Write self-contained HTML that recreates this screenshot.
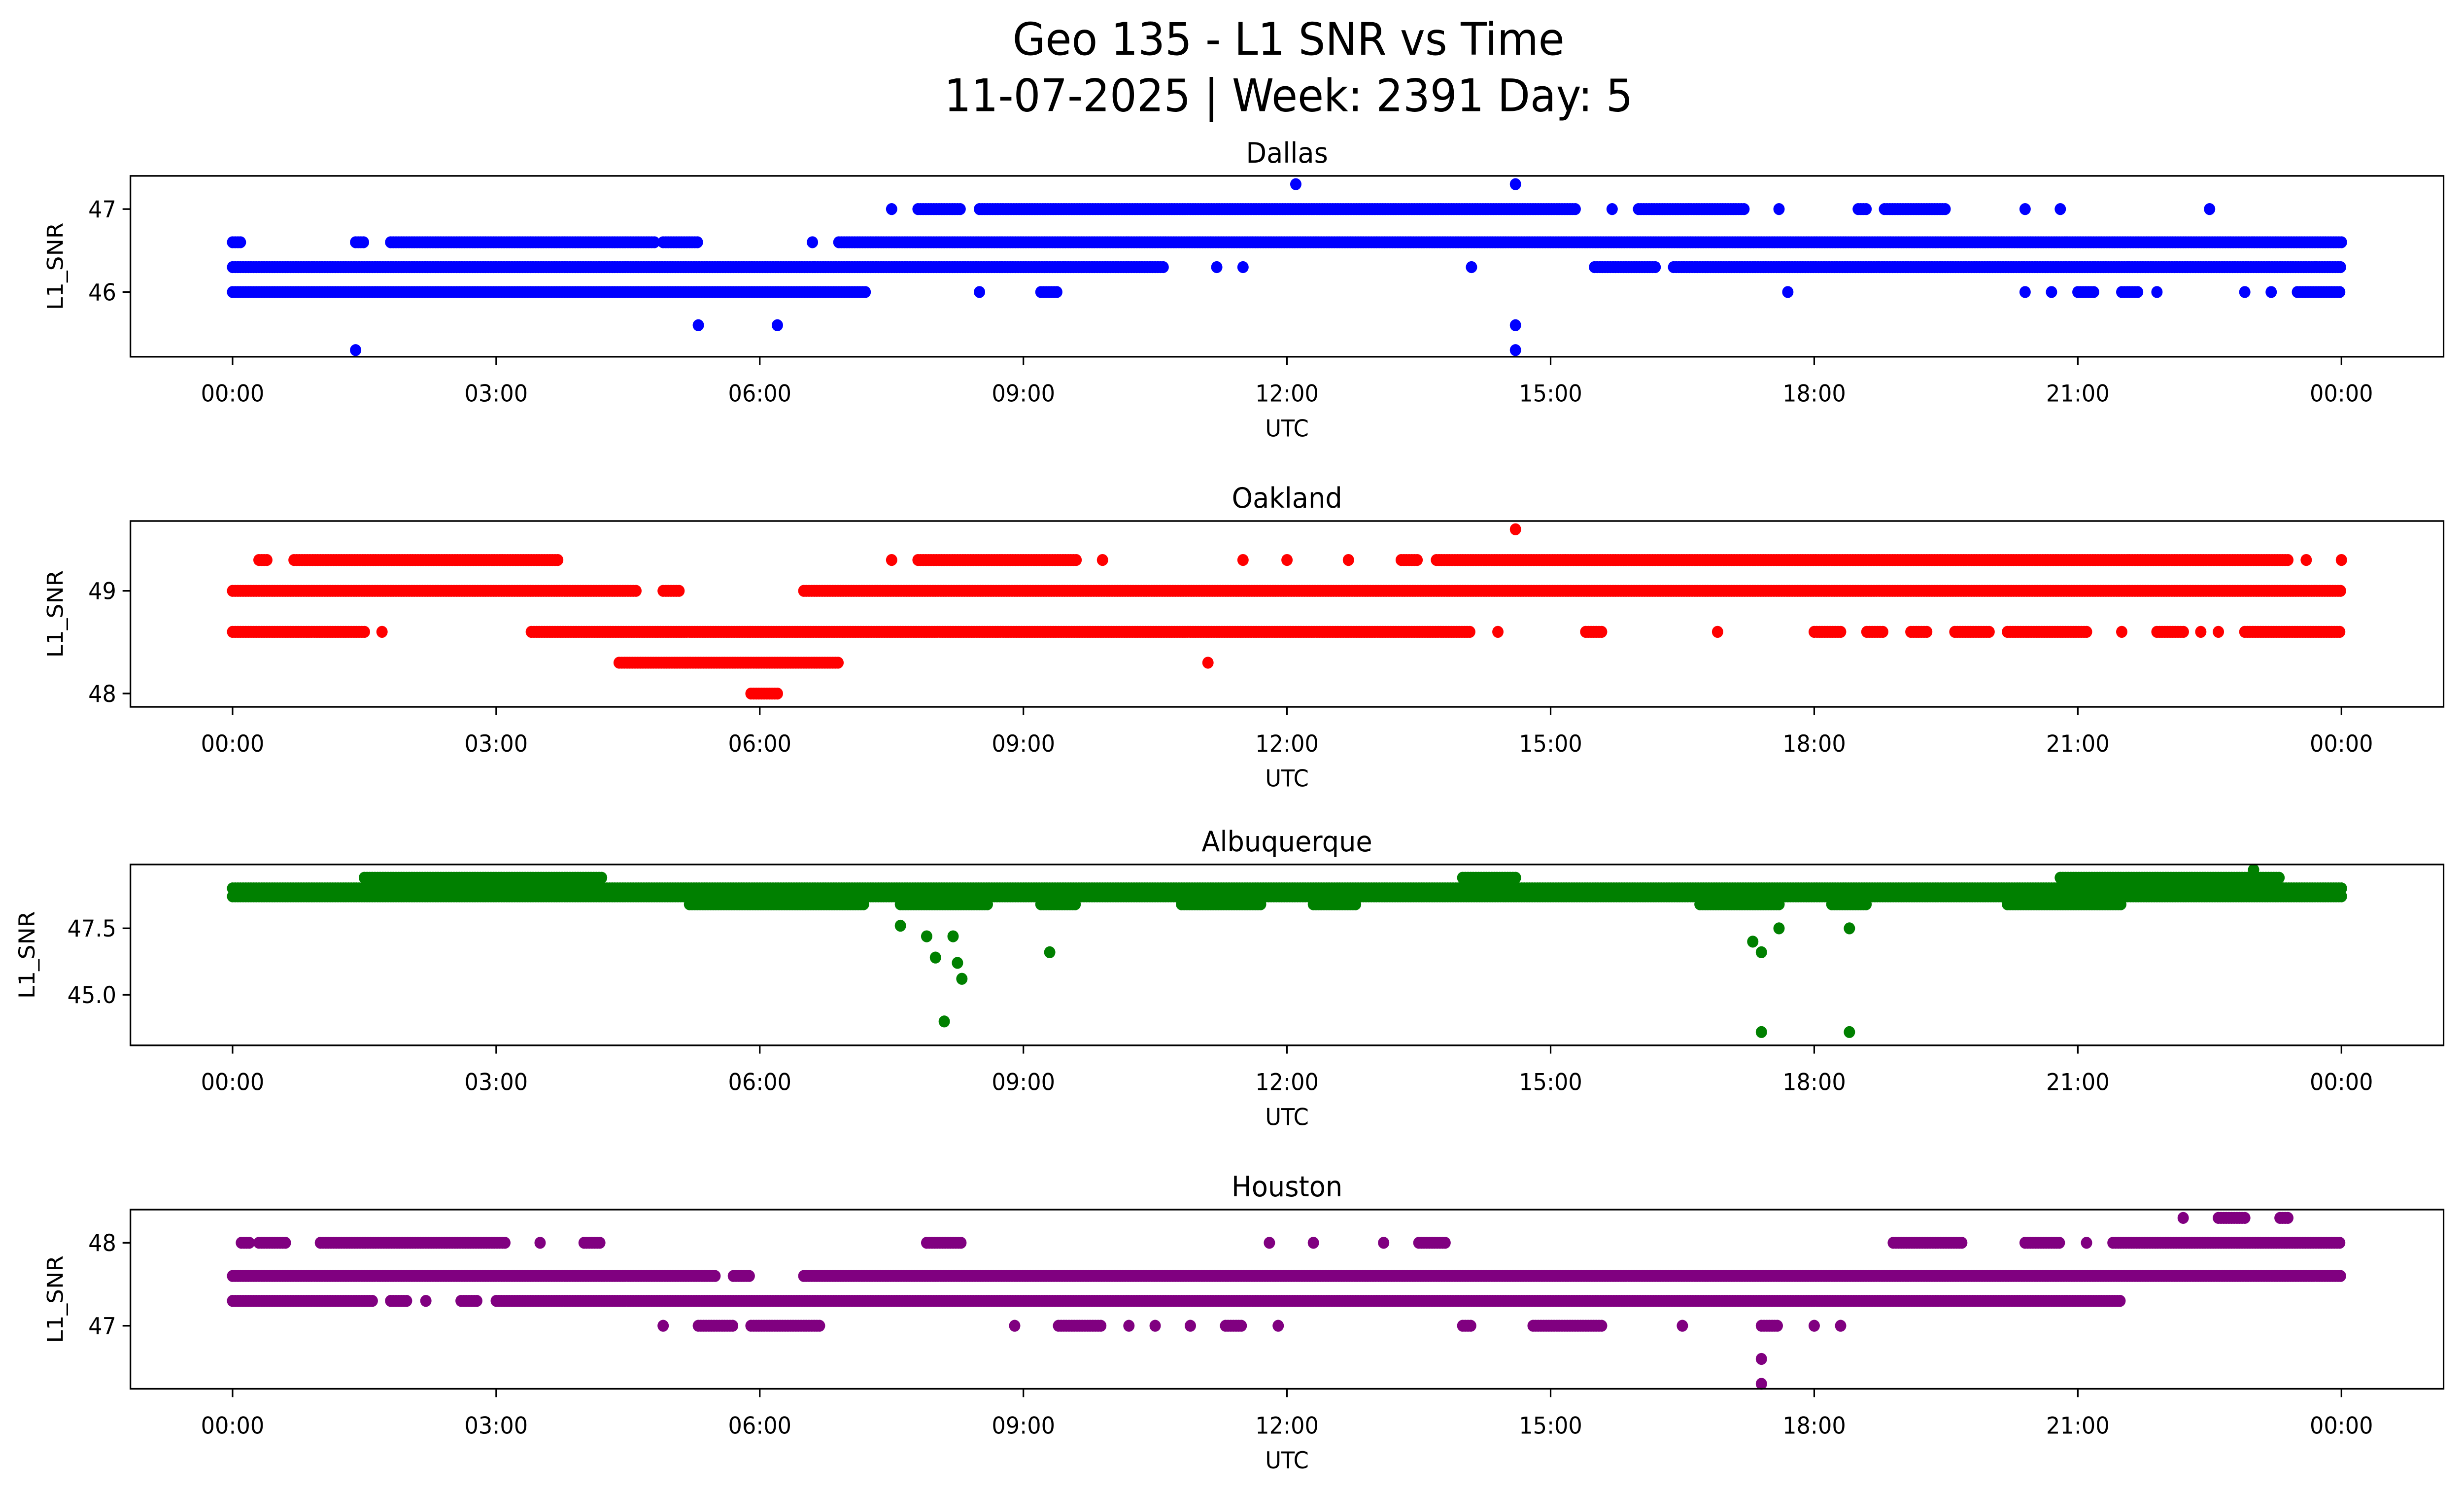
<!DOCTYPE html>
<html><head><meta charset="utf-8">
<style>html,body{margin:0;padding:0;background:#fff;width:100%;height:100%;overflow:hidden}svg{display:block;width:100vw;height:100vh}text{font-family:"DejaVu Sans","Liberation Sans",sans-serif;fill:#000}</style>
</head><body>
<svg id="fig" viewBox="0 0 1568 901" preserveAspectRatio="none" xmlns="http://www.w3.org/2000/svg">
<rect width="1568" height="901" fill="#fff"/>
<text x="820" y="33" font-size="27" text-anchor="middle">Geo 135 - L1 SNR vs Time</text>
<text x="820" y="67" font-size="27" text-anchor="middle">11-07-2025 | Week: 2391 Day: 5</text>
<g id="plots"></g>
</svg>
<script>
// x ticks (hours) and labels
const xTickHours = [0,3,6,9,12,15,18,21,24];
const xTickLabels = ["00:00","03:00","06:00","09:00","12:00","15:00","18:00","21:00","00:00"];

// runs: [startHour, endHour, snr]
const dallasRuns = [
 [0,10.6,46.3],[11.2,11.2,46.3],[11.5,11.5,46.3],[14.1,14.1,46.3],[15.5,16.2,46.3],[16.4,24,46.3],
 [0,7.2,46.0],[8.5,8.5,46.0],[9.2,9.4,46.0],[17.7,17.7,46.0],[20.4,20.4,46.0],[20.7,20.7,46.0],[21.0,21.2,46.0],[21.5,21.7,46.0],[21.9,21.9,46.0],[22.9,22.9,46.0],[23.2,23.2,46.0],[23.5,24,46.0],
 [0,0.1,46.6],[1.4,1.5,46.6],[1.8,4.8,46.6],[4.9,5.3,46.6],[6.6,6.6,46.6],[6.9,24,46.6],
 [7.5,7.5,47.0],[7.8,8.3,47.0],[8.5,15.3,47.0],[15.7,15.7,47.0],[16.0,17.2,47.0],[17.6,17.6,47.0],[18.5,18.6,47.0],[18.8,19.5,47.0],[20.4,20.4,47.0],[20.8,20.8,47.0],[22.5,22.5,47.0],
 [1.4,1.4,45.3],[14.6,14.6,45.3],[5.3,5.3,45.6],[6.2,6.2,45.6],[14.6,14.6,45.6],[12.1,12.1,47.3],[14.6,14.6,47.3]
];
const oaklandRuns = [
 [0,4.6,49.0],[4.9,5.1,49.0],[6.5,24,49.0],
 [0,1.5,48.6],[1.7,1.7,48.6],[3.4,14.1,48.6],[14.4,14.4,48.6],[15.4,15.6,48.6],[16.9,16.9,48.6],[18.0,18.3,48.6],[18.6,18.8,48.6],[19.1,19.3,48.6],[19.6,20.0,48.6],[20.2,21.1,48.6],[21.5,21.5,48.6],[21.9,22.2,48.6],[22.4,22.4,48.6],[22.6,22.6,48.6],[22.9,24,48.6],
 [0.3,0.4,49.3],[0.7,3.7,49.3],[7.5,7.5,49.3],[7.8,9.6,49.3],[9.9,9.9,49.3],[11.5,11.5,49.3],[12.0,12.0,49.3],[12.7,12.7,49.3],[13.3,13.5,49.3],[13.7,23.4,49.3],[23.6,23.6,49.3],[24,24,49.3],
 [4.4,6.9,48.3],[11.1,11.1,48.3],[5.9,6.2,48.0],[14.6,14.6,49.6]
];
const albuquerqueRuns = [
 [0,24,49.0],[0,24,48.7],
 [1.5,4.2,49.4],[14.0,14.6,49.4],[20.8,23.3,49.4],[23.0,23.0,49.7],
 [5.2,7.2,48.4],[7.6,8.6,48.4],[9.2,9.6,48.4],[10.8,11.7,48.4],[12.3,12.8,48.4],[16.7,17.6,48.4],[18.2,18.6,48.4],[20.2,21.5,48.4],
 [8.1,8.1,44.0],[8.3,8.3,45.6],[8.25,8.25,46.2],[8.0,8.0,46.4],[9.3,9.3,46.6],[17.3,17.3,47.0],[17.4,17.4,46.6],[17.4,17.4,43.6],[18.4,18.4,43.6],[18.4,18.4,47.5],[7.9,7.9,47.2],[17.6,17.6,47.5],[7.6,7.6,47.6],[8.2,8.2,47.2]
];
const houstonRuns = [
 [0,5.5,47.6],[5.7,5.9,47.6],[6.5,24,47.6],
 [0,1.6,47.3],[1.8,2.0,47.3],[2.2,2.2,47.3],[2.6,2.8,47.3],[3.0,21.5,47.3],
 [0.1,0.2,48.0],[0.3,0.6,48.0],[1.0,3.1,48.0],[3.5,3.5,48.0],[4.0,4.2,48.0],[7.9,8.3,48.0],[11.8,11.8,48.0],[12.3,12.3,48.0],[13.1,13.1,48.0],[13.5,13.8,48.0],[18.9,19.7,48.0],[20.4,20.8,48.0],[21.1,21.1,48.0],[21.4,24,48.0],
 [4.9,4.9,47.0],[5.3,5.7,47.0],[5.9,6.7,47.0],[8.9,8.9,47.0],[9.4,9.9,47.0],[10.2,10.2,47.0],[10.5,10.5,47.0],[10.9,10.9,47.0],[11.3,11.5,47.0],[11.9,11.9,47.0],[14.0,14.1,47.0],[14.8,15.6,47.0],[16.5,16.5,47.0],[17.4,17.6,47.0],[18.0,18.0,47.0],[18.3,18.3,47.0],
 [22.2,22.2,48.3],[22.6,22.9,48.3],[23.3,23.4,48.3],[17.4,17.4,46.6],[17.4,17.4,46.3]
];

const NS="http://www.w3.org/2000/svg";
const plots=document.getElementById('plots');
function mk(tag,attrs,parent){const e=document.createElementNS(NS,tag);for(const k in attrs)e.setAttribute(k,attrs[k]);(parent||plots).appendChild(e);return e;}

const panels=[
 {name:"Dallas",runs:dallasRuns,color:"#0000ff",top:106,bot:215,ymin:45.22,ymax:47.4,yt:[46,47],ytl:["46","47"]},
 {name:"Oakland",runs:oaklandRuns,color:"#ff0000",top:314,bot:426,ymin:47.87,ymax:49.68,yt:[48,49],ytl:["48","49"]},
 {name:"Albuquerque",runs:albuquerqueRuns,color:"#008000",top:521,bot:630,ymin:43.1,ymax:49.9,yt:[45,47.5],ytl:["45.0","47.5"]},
 {name:"Houston",runs:houstonRuns,color:"#800080",top:729,bot:837,ymin:46.24,ymax:48.4,yt:[47,48],ytl:["47","48"]}
];
const L=83,R=1555;
const xs=h=>148+h*(1490-148)/24;
panels.forEach((p,pi)=>{
 const key=p.name.toLowerCase();
 const g=mk('g',{});
 
 
 const ys=v=>p.bot-(v-p.ymin)/(p.ymax-p.ymin)*(p.bot-p.top);
 const t=mk('text',{x:(L+R)/2,y:p.top-8,'font-size':17,'text-anchor':'middle'},g);t.textContent=p.name;
 
 
 const pts=mk('g',{fill:p.color},g);
 
 
 p.runs.forEach(r=>{
  const step=0.03;
  for(let h=r[0];h<=r[1]+1e-9;h+=step){
   const c=mk('circle',{cx:xs(h).toFixed(1),cy:ys(r[2]).toFixed(1),r:3.6},pts);
   
   
  }
 });
 const frame=mk('rect',{x:L,y:p.top,width:R-L,height:p.bot-p.top,fill:'none',stroke:'#000','stroke-width':1},g);
 
 
 xTickHours.forEach((h,i)=>{
  mk('line',{x1:xs(h),x2:xs(h),y1:p.bot,y2:p.bot+5,stroke:'#000'},g);
  const tl=mk('text',{x:xs(h),y:p.bot+27,'font-size':14,'text-anchor':'middle'},g);tl.textContent=xTickLabels[i];
  
  
 });
 const xl=mk('text',{x:(L+R)/2,y:p.bot+48,'font-size':14,'text-anchor':'middle'},g);xl.textContent="UTC";
 
 
 p.yt.forEach((v,i)=>{
  mk('line',{x1:L-5,x2:L,y1:ys(v),y2:ys(v),stroke:'#000'},g);
  const tl=mk('text',{x:L-9,y:ys(v)+5,'font-size':14,'text-anchor':'end'},g);tl.textContent=p.ytl[i];
  
  
 });
 const yl=mk('text',{x:0,y:0,'font-size':14,'text-anchor':'middle',transform:`translate(${pi==2?22:40},${(p.top+p.bot)/2}) rotate(-90)`},g);yl.textContent="L1_SNR";
 
 
});
</script>
</body></html>
